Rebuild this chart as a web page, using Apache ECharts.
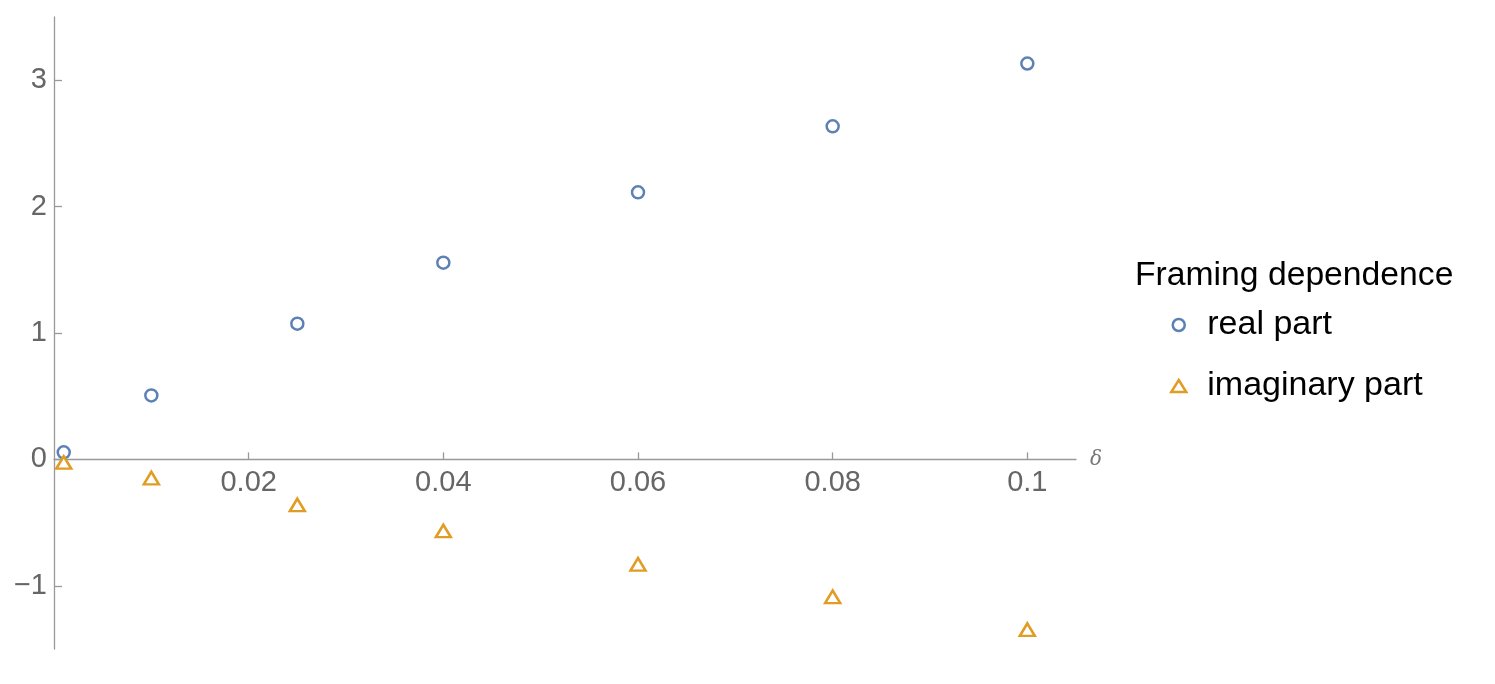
<!DOCTYPE html>
<html>
<head>
<meta charset="utf-8">
<style>html,body{margin:0;padding:0;background:#fff;overflow:hidden;}#c{width:1495px;height:684px;}</style>
<script src="https://cdn.jsdelivr.net/npm/echarts@6/dist/echarts.min.js"></script>
</head>
<body>
<div id="c"></div>
<script>
const deltas = [0.001, 0.01, 0.025, 0.04, 0.06, 0.08, 0.1];
const realPart = [0.056, 0.506, 1.074, 1.556, 2.113, 2.635, 3.132];
const imagPart = [-0.024, -0.148, -0.36, -0.566, -0.83, -1.087, -1.347];
const xTicks = [0.02, 0.04, 0.06, 0.08, 0.1];
const yTicks = [-1, 0, 1, 2, 3];
const seriesNames = ['real part', 'imaginary part'];
const legendTitle = 'Framing dependence';

const BLUE = '#5E81B5', ORANGE = '#E19C24';
const FONT = '"Liberation Sans", Arial, Helvetica, sans-serif';

const Y_MIN = -1.5, Y_MAX = 3.5, X_MIN = 0, X_MAX = 0.105;
const GRID_TOP = 17, GRID_H = 632;
// shift the x axis up from the grid bottom to where y = 0 sits
const xAxisOffset = -((0 - Y_MIN) / (Y_MAX - Y_MIN)) * GRID_H;

const chart = echarts.init(document.getElementById('c'), null, {renderer: 'canvas'});
chart.setOption({
  animation: false,
  backgroundColor: '#fff',
  title: {
    text: legendTitle,
    left: 1130, top: 251,
    textStyle: {fontFamily: FONT, fontSize: 33.7, fontWeight: 'normal', color: '#000', lineHeight: 40}
  },
  legend: {
    orient: 'vertical',
    left: 1165, top: 300,
    itemWidth: 15, itemHeight: 12,
    itemGap: 21,
    data: seriesNames,
    itemStyle: {borderWidth: 2.5},
    textStyle: {fontFamily: FONT, fontSize: 34, color: '#000', lineHeight: 40, padding: [0, 0, 0, 16]}
  },
  grid: {left: 54, top: GRID_TOP, width: 1022, height: GRID_H, containLabel: false},
  xAxis: {
    type: 'value', min: X_MIN, max: X_MAX,
    position: 'bottom', offset: xAxisOffset,
    name: 'δ', nameLocation: 'end', nameGap: 14,
    nameTextStyle: {fontFamily: '"DejaVu Serif", serif', fontStyle: 'italic', fontSize: 20, color: '#777', verticalAlign: 'middle', padding: [4, 0, 0, 0]},
    axisLine: {onZero: false, lineStyle: {color: '#999', width: 1.3}},
    axisTick: {show: true, inside: true, length: 7, customValues: xTicks, lineStyle: {color: '#999', width: 1.3}},
    axisLabel: {customValues: xTicks, fontFamily: FONT, fontSize: 29, color: '#666', margin: 9,
      formatter: v => String(+v.toFixed(4))},
    splitLine: {show: false}
  },
  yAxis: {
    type: 'value', min: Y_MIN, max: Y_MAX,
    axisLine: {show: true, onZero: false, lineStyle: {color: '#999', width: 1.3}},
    axisTick: {show: true, inside: true, length: 8, customValues: yTicks, lineStyle: {color: '#999', width: 1.3}},
    axisLabel: {customValues: yTicks, fontFamily: FONT, fontSize: 29, color: '#666', margin: 7,
      formatter: v => (v < 0 ? '\u2212' + Math.abs(v) : String(v))},
    splitLine: {show: false}
  },
  series: [
    {
      name: seriesNames[0], type: 'scatter', symbol: 'circle', symbolSize: 12,
      itemStyle: {color: '#fff', borderColor: BLUE, borderWidth: 2.5, opacity: 1},
      data: deltas.map((d, i) => [d, realPart[i]]),
      clip: false
    },
    {
      name: seriesNames[1], type: 'scatter', symbol: 'triangle', symbolSize: [15, 12.5],
      itemStyle: {color: '#fff', borderColor: ORANGE, borderWidth: 2.5, opacity: 1},
      data: deltas.map((d, i) => [d, imagPart[i]]),
      clip: false
    }
  ]
});
</script>
</body>
</html>
